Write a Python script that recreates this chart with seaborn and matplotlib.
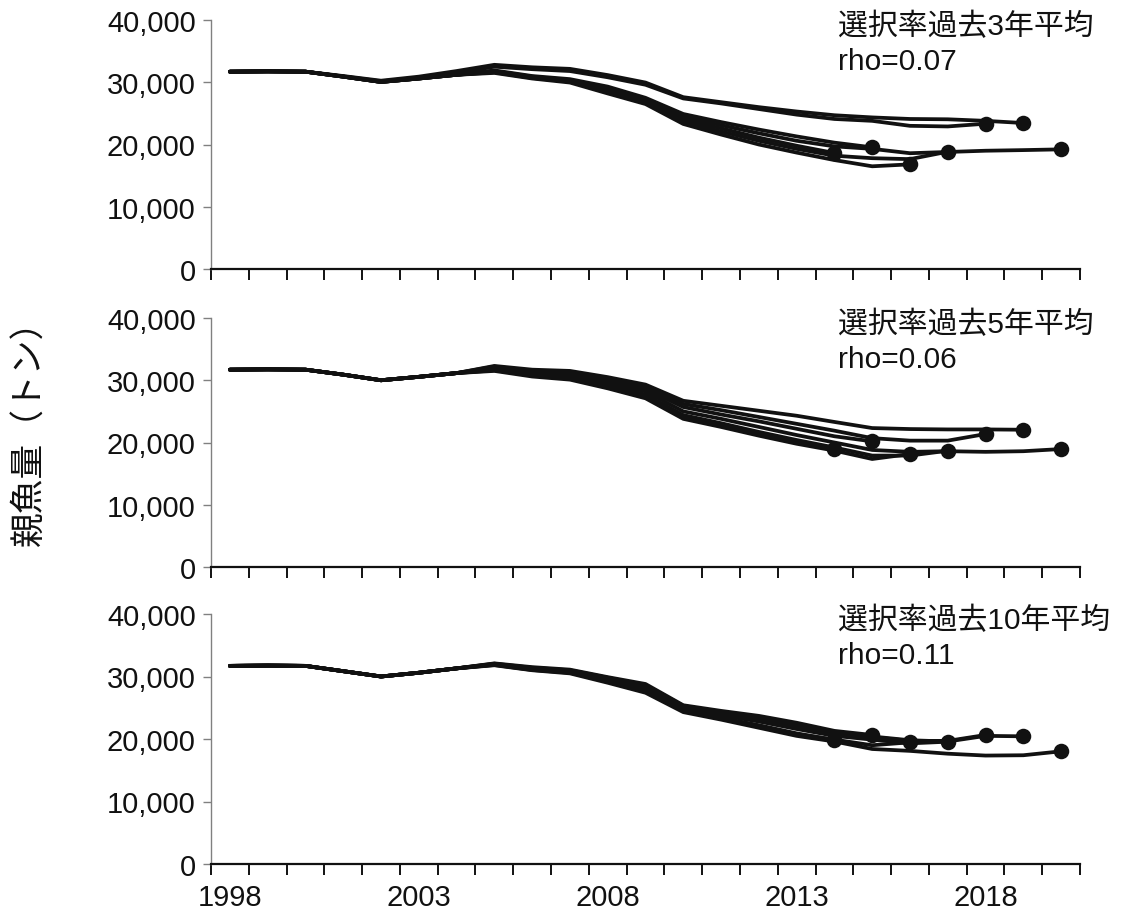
import numpy as np
import pandas as pd
import matplotlib
matplotlib.use("Agg")
import matplotlib.pyplot as plt
import seaborn as sns

# ---- data: spawning stock biomass (t), retrospective runs, terminal years 2014-2020 ----
years_all = list(range(1998, 2021))
terminal_years = [2014, 2015, 2016, 2017, 2018, 2019, 2020]

# selectivity = mean of last 3 years
ssb3_2014 = [31700, 31750, 31700, 30900, 30050, 30600, 31200, 31700, 30800, 30250, 28800, 27000,
             24100, 22600, 21100, 19800, 18630]
ssb3_2015 = [31700, 31750, 31700, 30900, 30050, 30600, 31200, 31900, 31000, 30500, 29300, 27500,
             24900, 23600, 22400, 21300, 20300, 19540]
ssb3_2016 = [31700, 31750, 31700, 30900, 30050, 30600, 31200, 31500, 30600, 29950, 28200, 26500,
             23300, 21600, 20000, 18700, 17500, 16500, 16810]
ssb3_2017 = [31700, 31750, 31700, 30900, 30050, 30600, 31200, 31600, 30700, 30100, 28500, 26800,
             23700, 22100, 20600, 19300, 18200, 17800, 17650, 18840]
ssb3_2018 = [31700, 31750, 31700, 30950, 30150, 30750, 31500, 32500, 32100, 31800, 30800, 29600,
             27400, 26600, 25700, 24800, 24100, 23800, 23000, 22900, 23340]
ssb3_2019 = [31700, 31750, 31700, 31000, 30250, 30900, 31800, 32800, 32400, 32150, 31150, 29950,
             27600, 26800, 26000, 25300, 24700, 24350, 24100, 24050, 23800, 23450]
ssb3_2020 = [31700, 31750, 31700, 30900, 30050, 30600, 31200, 31800, 30900, 30350, 29000, 27200,
             24500, 23100, 21800, 20600, 19700, 19300, 18600, 18800, 19000, 19100, 19220]

# selectivity = mean of last 5 years
ssb5_2014 = [31700, 31750, 31700, 30900, 30000, 30550, 31150, 31600, 30800, 30300, 28900, 27400,
             24100, 22800, 21400, 20100, 18950]
ssb5_2015 = [31700, 31750, 31700, 30900, 30000, 30550, 31150, 32000, 31300, 31000, 29900, 28600,
             25700, 24500, 23400, 22200, 21000, 20180]
ssb5_2016 = [31700, 31750, 31700, 30900, 30000, 30550, 31150, 31500, 30600, 30100, 28700, 27100,
             23800, 22500, 21100, 19800, 18700, 17350, 18150]
ssb5_2017 = [31700, 31750, 31700, 30900, 30000, 30550, 31150, 31700, 30900, 30500, 29200, 27700,
             24400, 23100, 21700, 20400, 19200, 17900, 17900, 18680]
ssb5_2018 = [31700, 31750, 31700, 30900, 30000, 30550, 31150, 32200, 31500, 31300, 30200, 29000,
             26200, 25200, 24100, 23000, 21900, 20700, 20300, 20300, 21360]
ssb5_2019 = [31700, 31750, 31700, 30900, 30000, 30550, 31150, 32300, 31700, 31500, 30500, 29300,
             26700, 25900, 25100, 24300, 23300, 22320, 22160, 22100, 22100, 22050]
ssb5_2020 = [31700, 31750, 31700, 30900, 30000, 30550, 31150, 31900, 31100, 30800, 29600, 28200,
             25000, 23800, 22500, 21200, 20000, 18800, 18500, 18600, 18500, 18600, 18950]

# selectivity = mean of last 10 years
ssb10_2014 = [31700, 31750, 31700, 30850, 30000, 30600, 31300, 31900, 31100, 30700, 29300, 27900,
              24600, 23400, 22200, 20900, 19840]
ssb10_2015 = [31700, 31750, 31700, 30850, 30000, 30600, 31300, 32100, 31500, 31100, 29900, 28800,
              25400, 24500, 23700, 22600, 21300, 20640]
ssb10_2016 = [31700, 31750, 31700, 30850, 30000, 30600, 31300, 31850, 31050, 30600, 29200, 27600,
              24500, 23300, 22100, 20800, 19900, 19000, 19470]
ssb10_2017 = [31700, 31750, 31700, 30850, 30000, 30600, 31300, 31950, 31200, 30800, 29500, 28200,
              24900, 23800, 22800, 21600, 20500, 19900, 19300, 19570]
ssb10_2018 = [31700, 31750, 31700, 30850, 30000, 30600, 31300, 32000, 31300, 30900, 29600, 28400,
              25100, 24100, 23100, 22000, 20800, 20300, 19700, 19700, 20640]
ssb10_2019 = [31700, 31750, 31700, 30850, 30000, 30600, 31300, 32050, 31400, 31000, 29800, 28600,
              25300, 24300, 23400, 22300, 21000, 20400, 19800, 19600, 20500, 20430]
ssb10_2020 = [31700, 31750, 31700, 30850, 30000, 30600, 31300, 31800, 31000, 30500, 29000, 27400,
              24300, 23100, 21800, 20500, 19600, 18400, 18100, 17650, 17350, 17400, 18030]

panel_series = [
    [ssb3_2014, ssb3_2015, ssb3_2016, ssb3_2017, ssb3_2018, ssb3_2019, ssb3_2020],
    [ssb5_2014, ssb5_2015, ssb5_2016, ssb5_2017, ssb5_2018, ssb5_2019, ssb5_2020],
    [ssb10_2014, ssb10_2015, ssb10_2016, ssb10_2017, ssb10_2018, ssb10_2019, ssb10_2020],
]
panel_titles = ["選択率過去3年平均", "選択率過去5年平均", "選択率過去10年平均"]
panel_rho = ["rho=0.07", "rho=0.06", "rho=0.11"]

y_ticks = [0, 10000, 20000, 30000, 40000]
y_tick_labels = ["0", "10,000", "20,000", "30,000", "40,000"]
x_label_years = [1998, 2003, 2008, 2013, 2018]
y_label = "親魚量（トン）"

# ---- styling ----
sns.set_theme(style="white")
plt.rcParams["font.family"] = ["Liberation Sans", "Noto Sans CJK JP", "DejaVu Sans"]

W, H = 1127, 920
fig = plt.figure(figsize=(W / 100, H / 100), dpi=100)

line_color = "#111111"
tick_fs = 21
note_fs = 21.5
left, right = 211 / W, 1080 / W
panel_px = [(21, 270), (319, 568), (615, 865)]

for i, (series, title, rho) in enumerate(zip(panel_series, panel_titles, panel_rho)):
    top_px, bot_px = panel_px[i]
    ax = fig.add_axes([left, 1 - bot_px / H, right - left, (bot_px - top_px) / H])

    rows = []
    for term, vals in zip(terminal_years, series):
        for yr, v in zip(years_all, vals):
            rows.append({"year": yr, "ssb": v, "terminal": term})
    df = pd.DataFrame(rows)
    ends = df.loc[df["year"] == df["terminal"]]

    sns.lineplot(data=df, x="year", y="ssb", hue="terminal", units="terminal",
                 estimator=None, palette=[line_color] * len(terminal_years),
                 legend=False, linewidth=2.7, ax=ax, sort=True)
    sns.scatterplot(data=ends, x="year", y="ssb", color=line_color, s=125,
                    edgecolor=line_color, linewidth=0, legend=False, ax=ax, zorder=5)

    ax.set_xlim(1997.5, 2020.5)
    ax.set_ylim(0, 40000)
    ax.set_yticks(y_ticks)
    ax.set_yticklabels(y_tick_labels)
    ax.set_xticks(x_label_years)
    ax.set_xticks(np.arange(1997.5, 2021.0, 1.0), minor=True)
    if i == 2:
        ax.set_xticklabels([str(y) for y in x_label_years])
    else:
        ax.set_xticklabels([])
    ax.set_xlabel("")
    ax.set_ylabel("")

    for s in ["top", "right"]:
        ax.spines[s].set_visible(False)
    ax.spines["left"].set_color("#808080")
    ax.spines["left"].set_linewidth(1.0)
    ax.spines["bottom"].set_color("#111111")
    ax.spines["bottom"].set_linewidth(1.6)

    ax.tick_params(axis="y", which="major", direction="out", length=6, width=1.0,
                   color="#808080", labelsize=tick_fs, labelcolor="#111111", pad=5, left=True)
    ax.tick_params(axis="x", which="major", length=0, labelsize=tick_fs, labelcolor="#111111",
                   pad=14, bottom=True)
    ax.tick_params(axis="x", which="minor", direction="out", length=8, width=1.4,
                   color="#111111", bottom=True)
    ax.grid(False)

    ax.text(0.7215, 0.975, title, transform=ax.transAxes, fontsize=note_fs,
            ha="left", va="center", color="#111111")
    ax.text(0.7215, 0.837, rho, transform=ax.transAxes, fontsize=note_fs,
            ha="left", va="center", color="#111111")

fig.text(0.027, 1 - 424 / H, y_label, rotation=90, ha="center", va="center",
         fontsize=25, color="#111111")

fig.savefig("out.png", dpi=100, facecolor="white")
